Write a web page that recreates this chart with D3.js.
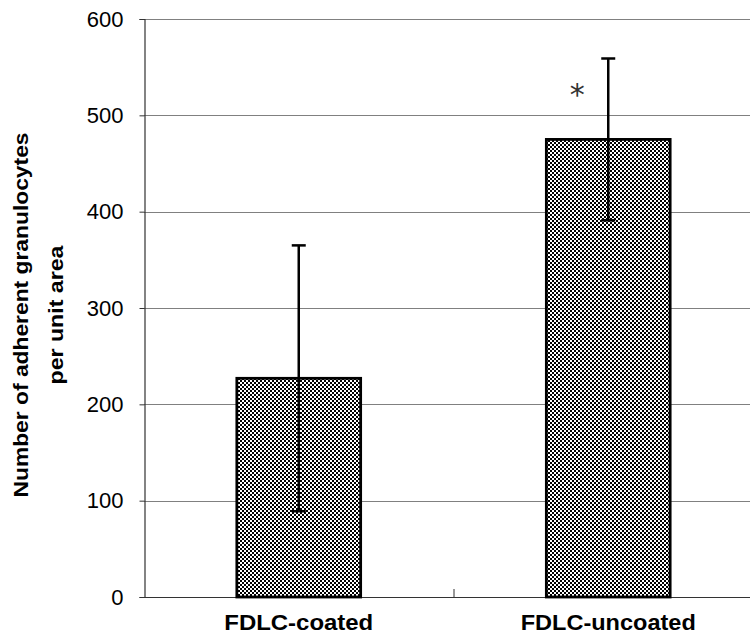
<!DOCTYPE html>
<html>
<head>
<meta charset="utf-8">
<script src="https://cdn.jsdelivr.net/npm/d3@7"></script>
<style>
  body { margin: 0; background: #fff; }
  svg { display: block; }
  .tick-label { font-family: Arial, "Liberation Sans", sans-serif; font-size: 22px; fill: #000; }
  .cat-label { font-family: Arial, "Liberation Sans", sans-serif; font-size: 22px; font-weight: bold; fill: #000; }
  .y-title { font-family: Arial, "Liberation Sans", sans-serif; font-size: 20px; font-weight: bold; fill: #000; }
</style>
</head>
<body>
<div id="chart"></div>
<script>
// ── Data ───────────────────────────────────────────────────
const categories = ['FDLC-coated', 'FDLC-uncoated'];
const means      = [227, 475];
const errors     = [138, 84];
const marks      = ['', '*'];
const yTicks     = [0, 100, 200, 300, 400, 500, 600];

// ── Layout ─────────────────────────────────────────────────
const W = 750, H = 639;
const M = { top: 19, left: 144, bottom: 42 };
const plotRight = 763;   // plot area runs past the window edge
const plotBottom = H - M.bottom;
const catLabelLen = [149, 175];   // wide gothic-style labels

const svg = d3.select('#chart').append('svg')
  .attr('width', W)
  .attr('height', H);

// Checkerboard fill for the bars
const defs = svg.append('defs');
const pat = defs.append('pattern')
  .attr('id', 'checker')
  .attr('width', 4).attr('height', 4)
  .attr('patternUnits', 'userSpaceOnUse');
pat.append('rect').attr('width', 4).attr('height', 4).attr('fill', '#fff');
pat.append('rect').attr('width', 2).attr('height', 2).attr('fill', '#000');
pat.append('rect').attr('x', 2).attr('y', 2).attr('width', 2).attr('height', 2).attr('fill', '#000');

const x = d3.scaleBand()
  .domain(categories)
  .range([M.left, plotRight])
  .paddingInner(0)
  .paddingOuter(0);

const y = d3.scaleLinear()
  .domain([0, 600])
  .range([plotBottom, M.top]);

// ── Gridlines ──────────────────────────────────────────────
svg.append('g')
  .selectAll('line')
  .data(yTicks.filter(d => d > 0))
  .enter()
  .append('line')
  .attr('x1', M.left).attr('x2', plotRight)
  .attr('y1', d => Math.round(y(d)) + 0.5)
  .attr('y2', d => Math.round(y(d)) + 0.5)
  .attr('stroke', '#808080')
  .attr('stroke-width', 1.2);

// ── Y axis ─────────────────────────────────────────────────
const yAxis = svg.append('g')
  .attr('transform', `translate(${M.left + 0.5},0)`)
  .call(d3.axisLeft(y).tickValues(yTicks).tickSize(5).tickPadding(16));
yAxis.select('.domain').attr('stroke', '#333').attr('stroke-width', 1.2);
yAxis.selectAll('.tick line').attr('stroke', '#333');
yAxis.selectAll('.tick text')
  .attr('class', 'tick-label')
  .attr('font-family', null).attr('font-size', null);

// ── X axis ─────────────────────────────────────────────────
svg.append('line')
  .attr('x1', M.left).attr('x2', plotRight)
  .attr('y1', plotBottom + 0.5).attr('y2', plotBottom + 0.5)
  .attr('stroke', '#333').attr('stroke-width', 1.2);

// category divider ticks
svg.append('g')
  .selectAll('line')
  .data(categories.slice(1))
  .enter()
  .append('line')
  .attr('x1', d => x(d) + 0.5).attr('x2', d => x(d) + 0.5)
  .attr('y1', plotBottom - 8).attr('y2', plotBottom)
  .attr('stroke', '#333');

svg.append('g')
  .selectAll('text')
  .data(categories)
  .enter()
  .append('text')
  .attr('class', 'cat-label')
  .attr('x', d => x(d) + x.bandwidth() / 2)
  .attr('y', plotBottom + 33)
  .attr('text-anchor', 'middle')
  .attr('textLength', (d, i) => catLabelLen[i])
  .attr('lengthAdjust', 'spacingAndGlyphs')
  .text(d => d);

// ── Bars ───────────────────────────────────────────────────
const barW = x.bandwidth() * 0.4;

svg.append('g')
  .selectAll('rect')
  .data(categories)
  .enter()
  .append('rect')
  .attr('x', d => x(d) + x.bandwidth() / 2 - barW / 2)
  .attr('y', (d, i) => y(means[i]))
  .attr('width', barW)
  .attr('height', (d, i) => plotBottom - y(means[i]))
  .attr('fill', 'url(#checker)')
  .attr('stroke', '#000')
  .attr('stroke-width', 2.8);

// ── Error bars ─────────────────────────────────────────────
const capW = 14;
const eb = svg.append('g')
  .selectAll('g')
  .data(categories)
  .enter()
  .append('g')
  .attr('stroke', '#000')
  .attr('stroke-width', 2.5);

eb.append('line')
  .attr('x1', d => x(d) + x.bandwidth() / 2)
  .attr('x2', d => x(d) + x.bandwidth() / 2)
  .attr('y1', (d, i) => y(means[i] + errors[i]))
  .attr('y2', (d, i) => y(means[i] - errors[i]));
eb.append('line')
  .attr('x1', d => x(d) + x.bandwidth() / 2 - capW / 2)
  .attr('x2', d => x(d) + x.bandwidth() / 2 + capW / 2)
  .attr('y1', (d, i) => y(means[i] + errors[i]))
  .attr('y2', (d, i) => y(means[i] + errors[i]));
eb.append('line')
  .attr('x1', d => x(d) + x.bandwidth() / 2 - capW / 2)
  .attr('x2', d => x(d) + x.bandwidth() / 2 + capW / 2)
  .attr('y1', (d, i) => y(means[i] - errors[i]))
  .attr('y2', (d, i) => y(means[i] - errors[i]));

// significance mark
svg.append('g')
  .selectAll('text')
  .data(categories)
  .enter()
  .append('text')
  .attr('x', d => x(d) + x.bandwidth() / 2 - 31)
  .attr('y', (d, i) => y(means[i] + errors[i]) + 47)
  .attr('text-anchor', 'middle')
  .attr('font-family', '"DejaVu Sans", sans-serif')
  .attr('font-size', 30)
  .attr('fill', '#333')
  .text((d, i) => marks[i]);

// ── Y title ────────────────────────────────────────────────
const yt = svg.append('text')
  .attr('class', 'y-title')
  .attr('transform', `translate(28,315) rotate(-90)`)
  .attr('text-anchor', 'middle');
yt.append('tspan').attr('x', 0).attr('y', 0)
  .attr('textLength', 365).attr('lengthAdjust', 'spacingAndGlyphs')
  .text('Number of adherent granulocytes');
yt.append('tspan').attr('x', 0).attr('y', 35)
  .attr('textLength', 139).attr('lengthAdjust', 'spacingAndGlyphs')
  .text('per unit area');
</script>
</body>
</html>
